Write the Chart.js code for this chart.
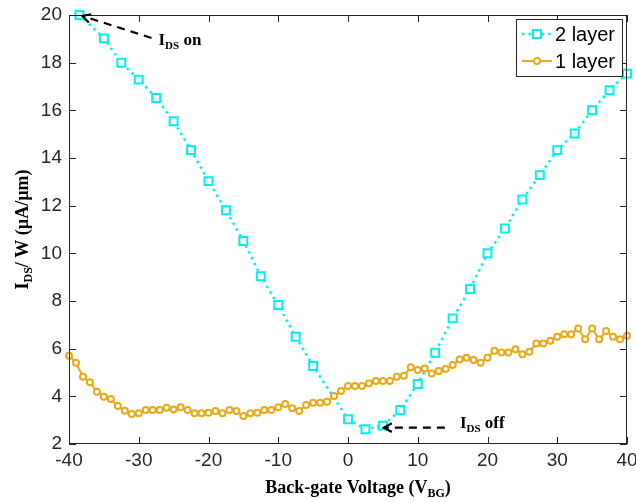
<!DOCTYPE html>
<html>
<head>
<meta charset="utf-8">
<script src="https://cdn.jsdelivr.net/npm/chart.js@4"></script>
<style>
  html, body { margin: 0; padding: 0; background: #fff; }
  #wrap { width: 636px; height: 502px; }
</style>
</head>
<body>
<div id="wrap"><canvas id="ivChart" width="636" height="502"></canvas></div>
<script>
// back-gate sweep
const xTicks = [-40, -30, -20, -10, 0, 10, 20, 30, 40];
const yTicks = [2, 4, 6, 8, 10, 12, 14, 16, 18, 20];

const twoLayerX = [-38.5, -35, -32.5, -30, -27.5, -25, -22.5, -20, -17.5, -15, -12.5, -10, -7.5, -5,
  0, 2.5, 5, 7.5, 10, 12.5, 15, 17.5, 20, 22.5, 25, 27.5, 30, 32.5, 35, 37.5, 40];
const twoLayerY = [20, 19.02, 18.0, 17.29, 16.52, 15.54, 14.33, 13.03, 11.81, 10.52, 9.04, 7.83, 6.50, 5.27,
  3.04, 2.62, 2.77, 3.43, 4.52, 5.83, 7.27, 8.50, 10.0, 11.04, 12.26, 13.28, 14.33, 15.03, 16.0, 16.84, 17.54];

const oneLayerX = [-40, -39, -38, -37, -36, -35, -34, -33, -32, -31, -30, -29, -28, -27, -26, -25, -24, -23, -22, -21,
  -20, -19, -18, -17, -16, -15, -14, -13, -12, -11, -10, -9, -8, -7, -6, -5, -4, -3, -2, -1,
  0, 1, 2, 3, 4, 5, 6, 7, 8, 9, 10, 11, 12, 13, 14, 15, 16, 17, 18, 19,
  20, 21, 22, 23, 24, 25, 26, 27, 28, 29, 30, 31, 32, 33, 34, 35, 36, 37, 38, 39, 40];
const oneLayerY = [5.70, 5.41, 4.82, 4.59, 4.19, 3.98, 3.89, 3.59, 3.40, 3.26, 3.29, 3.43, 3.43, 3.43, 3.52, 3.45, 3.54, 3.43, 3.29, 3.29,
  3.31, 3.38, 3.29, 3.43, 3.38, 3.17, 3.29, 3.31, 3.43, 3.43, 3.54, 3.68, 3.50, 3.38, 3.64, 3.73, 3.73, 3.77, 4.01, 4.22,
  4.43, 4.43, 4.43, 4.54, 4.64, 4.64, 4.64, 4.82, 4.86, 5.22, 5.10, 5.17, 4.96, 5.06, 5.15, 5.31, 5.55, 5.62, 5.52, 5.41,
  5.62, 5.91, 5.84, 5.84, 5.98, 5.77, 5.87, 6.22, 6.22, 6.33, 6.50, 6.61, 6.61, 6.85, 6.39, 6.85, 6.39, 6.74, 6.50, 6.39, 6.54];

const CYAN = '#00f0f0';
const ORANGE = '#e9a918';
const AXIS = '#262626';

function pts(xs, ys) {
  return xs.map((v, i) => ({ x: v, y: ys[i] }));
}

// text with subscripts: parts = [[text, isSub], ...]
function richWidth(ctx, parts, font, subFont) {
  let w = 0;
  parts.forEach(([t, sub]) => { ctx.font = sub ? subFont : font; w += ctx.measureText(t).width; });
  return w;
}
function drawRich(ctx, parts, x, y, font, subFont) {
  ctx.textBaseline = 'alphabetic';
  ctx.textAlign = 'left';
  parts.forEach(([t, sub]) => {
    ctx.font = sub ? subFont : font;
    ctx.fillText(t, x, sub ? y + 4 : y);
    x += ctx.measureText(t).width;
  });
}

function arrow(ctx, x0, y0, x1, y1) {
  ctx.save();
  ctx.strokeStyle = '#000';
  ctx.lineWidth = 2.2;
  ctx.setLineDash([8, 6]);
  ctx.beginPath();
  ctx.moveTo(x0, y0);
  ctx.lineTo(x1, y1);
  ctx.stroke();
  ctx.setLineDash([]);
  const a = Math.atan2(y0 - y1, x0 - x1);
  ctx.beginPath();
  ctx.moveTo(x1 + 9 * Math.cos(a + 0.5), y1 + 9 * Math.sin(a + 0.5));
  ctx.lineTo(x1, y1);
  ctx.lineTo(x1 + 9 * Math.cos(a - 0.5), y1 + 9 * Math.sin(a - 0.5));
  ctx.stroke();
  ctx.restore();
}

const overlay = {
  id: 'overlay',
  afterDraw(chart) {
    const { ctx, chartArea: a, scales: { x, y } } = chart;
    ctx.save();

    // axes box with inward ticks on every side
    ctx.strokeStyle = AXIS;
    ctx.lineWidth = 1;
    ctx.strokeRect(a.left + 0.5, a.top + 0.5, a.right - a.left - 1, a.bottom - a.top - 1);
    ctx.beginPath();
    xTicks.forEach(v => {
      const px = Math.round(x.getPixelForValue(v)) + 0.5;
      ctx.moveTo(px, a.bottom); ctx.lineTo(px, a.bottom - 7);
      ctx.moveTo(px, a.top); ctx.lineTo(px, a.top + 7);
    });
    yTicks.forEach(v => {
      const py = Math.round(y.getPixelForValue(v)) + 0.5;
      ctx.moveTo(a.left, py); ctx.lineTo(a.left + 7, py);
      ctx.moveTo(a.right, py); ctx.lineTo(a.right - 7, py);
    });
    ctx.stroke();

    // axis titles
    ctx.fillStyle = '#000';
    const tf = 'bold 18px "Liberation Serif"';
    const sf = 'bold 12px "Liberation Serif"';
    const xt = [['Back-gate Voltage (V', false], ['BG', true], [')', false]];
    const xw = richWidth(ctx, xt, tf, sf);
    drawRich(ctx, xt, (a.left + a.right) / 2 + 10 - xw / 2, 493, tf, sf);

    const yt = [['I', false], ['DS', true], ['/ W (\u00b5A/\u00b5m)', false]];
    const yw = richWidth(ctx, yt, tf, sf);
    ctx.save();
    ctx.translate(28, (a.top + a.bottom) / 2);
    ctx.rotate(-Math.PI / 2);
    drawRich(ctx, yt, -yw / 2, 0, tf, sf);
    ctx.restore();

    // annotations anchored on the on / off data points
    const onX = x.getPixelForValue(twoLayerX[0]);
    const onY = y.getPixelForValue(twoLayerY[0]);
    arrow(ctx, onX + 72, onY + 23, onX + 3, onY + 1);
    drawRich(ctx, [['I', false], ['DS', true], [' on', false]], onX + 79, onY + 30,
      'bold 17px "Liberation Serif"', 'bold 11px "Liberation Serif"');

    const offX = x.getPixelForValue(twoLayerX[16]);
    const offY = y.getPixelForValue(twoLayerY[16]);
    arrow(ctx, offX + 62, offY + 2, offX + 1, offY + 2);
    drawRich(ctx, [['I', false], ['DS', true], [' off', false]], offX + 77, offY + 2,
      'bold 17px "Liberation Serif"', 'bold 11px "Liberation Serif"');

    // legend
    const lx = 516, ly = 19, lw = 106, lh = 57;
    ctx.fillStyle = '#fff';
    ctx.fillRect(lx, ly, lw, lh);
    ctx.strokeStyle = AXIS;
    ctx.lineWidth = 1;
    ctx.strokeRect(lx + 0.5, ly + 0.5, lw, lh);
    const rows = [
      { label: '2 layer', color: CYAN, dash: [2.5, 4], width: 2.5, rect: true, yy: ly + 15 },
      { label: '1 layer', color: ORANGE, dash: [], width: 2, rect: false, yy: ly + 42 }
    ];
    rows.forEach(r => {
      ctx.strokeStyle = r.color;
      ctx.lineWidth = r.width;
      ctx.setLineDash(r.dash);
      ctx.beginPath();
      ctx.moveTo(lx + 6, r.yy); ctx.lineTo(lx + 36, r.yy);
      ctx.stroke();
      ctx.setLineDash([]);
      ctx.lineWidth = 2;
      ctx.fillStyle = '#fff';
      ctx.beginPath();
      if (r.rect) ctx.rect(lx + 21 - 4, r.yy - 4, 8, 8);
      else ctx.arc(lx + 21, r.yy, 3, 0, Math.PI * 2);
      ctx.fill();
      ctx.stroke();
      ctx.fillStyle = '#000';
      ctx.font = '20px "Liberation Sans"';
      ctx.textBaseline = 'middle';
      ctx.textAlign = 'left';
      ctx.fillText(r.label, lx + 39, r.yy + 1);
    });

    ctx.restore();
  }
};

new Chart(document.getElementById('ivChart'), {
  type: 'scatter',
  data: {
    datasets: [
      {
        label: '2 layer',
        data: pts(twoLayerX, twoLayerY),
        showLine: true,
        borderColor: CYAN,
        borderWidth: 2.5,
        borderDash: [2.5, 4],
        pointStyle: 'rect',
        pointRadius: 5.6,
        pointBorderWidth: 2,
        pointBorderColor: CYAN,
        pointBackgroundColor: '#fff',
        clip: false,
        order: 1
      },
      {
        label: '1 layer',
        data: pts(oneLayerX, oneLayerY),
        showLine: true,
        borderColor: ORANGE,
        borderWidth: 2,
        pointStyle: 'circle',
        pointRadius: 3,
        pointBorderWidth: 2,
        pointBorderColor: ORANGE,
        pointBackgroundColor: '#fff',
        clip: false,
        order: 0
      }
    ]
  },
  options: {
    responsive: false,
    animation: false,
    layout: { padding: { top: 15, right: 9, left: 0, bottom: 0 } },
    plugins: { legend: { display: false }, tooltip: { enabled: false } },
    scales: {
      x: {
        type: 'linear', min: -40, max: 40,
        grid: { display: false, drawTicks: false },
        border: { display: false },
        afterBuildTicks: s => { s.ticks = xTicks.map(v => ({ value: v })); },
        afterFit: s => { s.height = 58; s.paddingLeft = 0; s.paddingRight = 0; },
        ticks: { color: AXIS, font: { family: 'Liberation Sans', size: 19 }, padding: 5, maxRotation: 0 }
      },
      y: {
        type: 'linear', min: 2, max: 20,
        grid: { display: false, drawTicks: false },
        border: { display: false },
        afterBuildTicks: s => { s.ticks = yTicks.map(v => ({ value: v })); },
        afterFit: s => { s.width = 69; s.paddingTop = 0; s.paddingBottom = 0; },
        ticks: { color: AXIS, font: { family: 'Liberation Sans', size: 19 }, padding: 7 }
      }
    }
  },
  plugins: [overlay]
});
</script>
</body>
</html>
